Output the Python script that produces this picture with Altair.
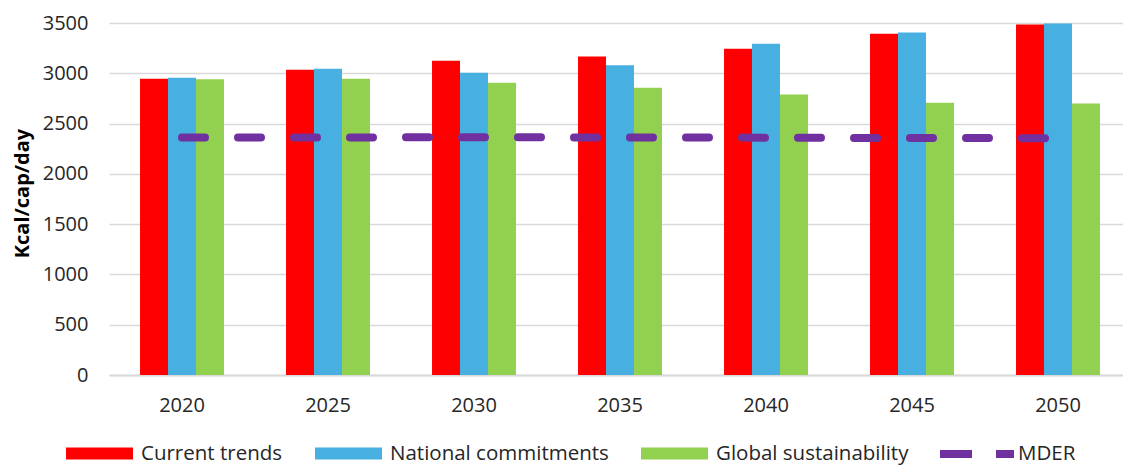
import altair as alt
import pandas as pd

years = ["2020", "2025", "2030", "2035", "2040", "2045", "2050"]
series = ["Current trends", "National commitments", "Global sustainability"]
current_trends = [2945, 3035, 3124, 3167, 3243, 3393, 3485]
national_commitments = [2955, 3045, 3005, 3080, 3293, 3405, 3495]
global_sustainability = [2940, 2945, 2905, 2856, 2789, 2707, 2700]
mder = [2362, 2362, 2364, 2362, 2360, 2356, 2355]
colors = ["#FF0000", "#47B0E0", "#92D050"]
mder_color = "#7030A0"

rows = []
for name, vals in zip(series, [current_trends, national_commitments, global_sustainability]):
    for y, v in zip(years, vals):
        rows.append({"year": y, "series": name, "value": v})
bars_df = pd.DataFrame(rows)
line_df = pd.DataFrame({"year": years, "value": mder, "series": ["MDER"] * len(years)})

x_scale = alt.Scale(domain=years, range=[0, 1022], paddingInner=0.425, paddingOuter=0.2125)
y_scale = alt.Scale(domain=[0, 3500], nice=False)

x_axis = alt.Axis(title=None, labelFontSize=20, labelColor="#262626", labelPadding=36,
                  labelBaseline="alphabetic", ticks=False, tickSize=0, domainColor="#D9D9D9",
                  domainWidth=2, grid=False, labelAngle=0)
y_axis = alt.Axis(title="Kcal/cap/day", values=[0, 500, 1000, 1500, 2000, 2500, 3000, 3500],
                  format="d", labelFontSize=20, labelColor="#262626", labelPadding=21,
                  ticks=False, tickSize=0, domain=False, gridColor="#D9D9D9", gridWidth=1.5,
                  titleFontSize=20, titleFontWeight="bold", titleColor="#000000",
                  titleAngle=270, titleX=-81, titleY=170, titleBaseline="alphabetic",
                  titleAlign="center")

bars = alt.Chart(bars_df).mark_bar().encode(
    x=alt.X("year:N", scale=x_scale, axis=x_axis, sort=years),
    xOffset=alt.XOffset("series:N", sort=series, scale=alt.Scale(paddingInner=0)),
    y=alt.Y("value:Q", scale=y_scale, axis=y_axis),
    fill=alt.Fill("series:N", sort=series,
                  scale=alt.Scale(domain=series, range=colors),
                  legend=alt.Legend(title=None, orient="none", direction="horizontal",
                                    legendX=-43, legendY=397, symbolType="M-1,-0.18H1V0.18H-1Z",
                                    symbolSize=4489, symbolStrokeWidth=0, symbolOpacity=1,
                                    labelFontSize=20.5, labelColor="#262626", labelOffset=8,
                                    columnPadding=32, labelLimit=400)),
)

line = alt.Chart(line_df).mark_line(strokeWidth=8, strokeCap="round", strokeDash=[23, 33]).encode(
    x=alt.X("year:N", scale=x_scale, sort=years),
    y=alt.Y("value:Q", scale=y_scale),
    stroke=alt.Stroke("series:N", scale=alt.Scale(domain=["MDER"], range=[mder_color]),
                      legend=alt.Legend(title=None, orient="none", legendX=827, legendY=390,
                                        symbolType="stroke", symbolSize=5476,
                                        symbolStrokeWidth=8, symbolDash=[32, 24],
                                        labelFontSize=20.5, labelColor="#262626", labelOffset=0,
                                        labelLimit=400)),
)

chart = alt.layer(bars, line).properties(
    width=1014, height=352,
    autosize=alt.AutoSizeParams(type="none"),
    padding={"left": 109, "top": 23, "right": 0, "bottom": 90},
).configure(font="Open Sans").configure_view(stroke=None)

chart.save("out.html", embed_options={"renderer": "svg", "actions": False})
